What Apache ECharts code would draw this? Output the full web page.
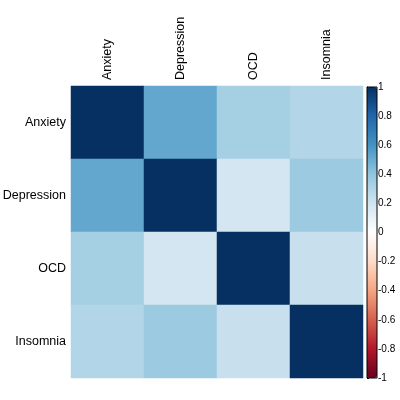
<!DOCTYPE html>
<html><head><meta charset="utf-8">
<script src="https://cdn.jsdelivr.net/npm/echarts@6/dist/echarts.min.js"></script>
<style>html,body{margin:0;padding:0;background:#fff}#c{width:400px;height:400px}</style>
</head><body><div id="c"></div>
<script>
const variables = ['Anxiety', 'Depression', 'OCD', 'Insomnia'];
const corrAnxiety    = [1.00, 0.52, 0.34, 0.30];
const corrDepression = [0.52, 1.00, 0.19, 0.37];
const corrOCD        = [0.34, 0.19, 1.00, 0.23];
const corrInsomnia   = [0.30, 0.37, 0.23, 1.00];
const colorbarTicks = [-1, -0.8, -0.6, -0.4, -0.2, 0, 0.2, 0.4, 0.6, 0.8, 1];
const rdbu = ['#67001F','#B2182B','#D6604D','#F4A582','#FDDBC7','#FFFFFF','#D1E5F0','#92C5DE','#4393C3','#2166AC','#053061'];

const matrix = [corrAnxiety, corrDepression, corrOCD, corrInsomnia];
const data = [];
matrix.forEach((row, r) => row.forEach((v, c) => data.push([c, r, v])));

const font = 'Liberation Sans, Arial, sans-serif';
const chart = echarts.init(document.getElementById('c'));
chart.setOption({
  animation: false,
  grid: [
    {left: 71, top: 86, width: 292, height: 292, containLabel: false, outerBoundsMode: 'none'},
    {left: 367, top: 87, width: 10, height: 291, show: true, borderColor: '#000', borderWidth: 1,
     backgroundColor: 'transparent', z: 10, containLabel: false, outerBoundsMode: 'none'}
  ],
  xAxis: [
    {type: 'category', data: variables, position: 'top', gridIndex: 0,
     axisLine: {show: false}, axisTick: {show: false}, splitLine: {show: false},
     axisLabel: {rotate: -90, fontSize: 12.5, color: '#000', fontFamily: font, margin: 6}},
    {type: 'value', gridIndex: 1, show: false, min: 0, max: 1}
  ],
  yAxis: [
    {type: 'category', data: variables, inverse: true, gridIndex: 0,
     axisLine: {show: false}, axisTick: {show: false}, splitLine: {show: false},
     axisLabel: {fontSize: 12.5, color: '#000', fontFamily: font, margin: 5}},
    {type: 'value', gridIndex: 1, min: colorbarTicks[0], max: colorbarTicks[colorbarTicks.length-1], interval: 0.2,
     position: 'right', splitLine: {show: false},
     axisLine: {show: true, lineStyle: {color: '#000', width: 1}},
     axisTick: {show: true, length: 2, inside: false, lineStyle: {color: '#000'}},
     axisLabel: {fontSize: 10, color: '#000', fontFamily: font, margin: 1}}
  ],
  visualMap: {
    type: 'continuous', min: -1, max: 1, seriesIndex: 0,
    orient: 'vertical', left: 367, top: 87, itemWidth: 10, itemHeight: 291,
    padding: 0, text: null, showLabel: false, calculable: false, hoverLink: false,
    inRange: {color: rdbu}
  },
  series: [{
    type: 'heatmap', xAxisIndex: 0, yAxisIndex: 0, data: data,
    label: {show: false}, itemStyle: {borderWidth: 0}
  }]
});
</script></body></html>
